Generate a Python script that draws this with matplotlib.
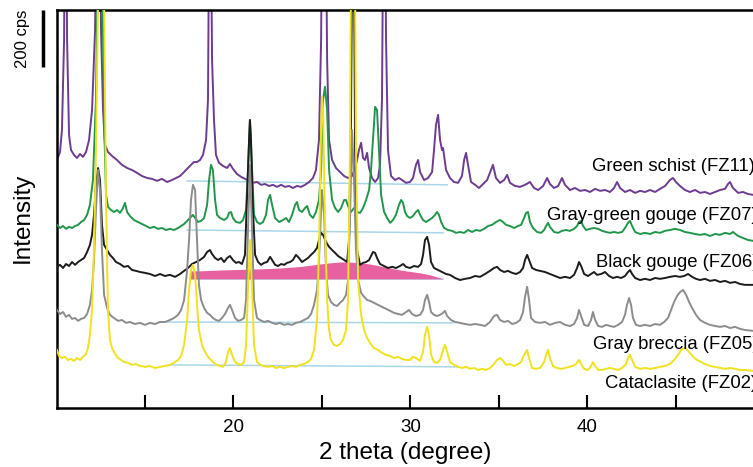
import matplotlib.pyplot as plt
import matplotlib.transforms as mtransforms

plt.rcParams['font.family'] = ['Liberation Sans', 'DejaVu Sans']

# ---- XRD patterns: 2 theta (degree) and intensity (cps) ----
schist_x = [10.04, 10.21, 10.32, 10.44, 10.52, 10.61, 10.72, 10.83, 11.00, 11.17,
            11.34, 11.51, 11.68, 11.85, 12.02, 12.19, 12.36, 12.53, 12.64, 12.75,
            12.92, 13.15, 13.43, 13.71, 14.00, 14.28, 14.56, 14.84, 15.13, 15.41,
            15.69, 15.97, 16.26, 16.54, 16.76, 16.99, 17.22, 17.44, 17.61, 17.78,
            17.95, 18.12, 18.29, 18.46, 18.57, 18.68, 18.80, 18.91, 19.02, 19.19,
            19.42, 19.65, 19.81, 19.98, 20.21, 20.44, 20.66, 20.89, 21.11, 21.34,
            21.57, 21.79, 22.02, 22.24, 22.47, 22.70, 22.92, 23.15, 23.37, 23.60,
            23.83, 24.05, 24.28, 24.50, 24.67, 24.84, 24.96, 25.07, 25.18, 25.30,
            25.41, 25.58, 25.80, 26.03, 26.26, 26.48, 26.71, 26.88, 26.99, 27.10,
            27.22, 27.33, 27.44, 27.56, 27.67, 27.84, 28.01, 28.18, 28.29, 28.40,
            28.52, 28.63, 28.74, 28.91, 29.14, 29.36, 29.53, 29.76, 29.98, 30.15,
            30.32, 30.44, 30.55, 30.78, 31.00, 31.23, 31.34, 31.45, 31.57, 31.68,
            31.79, 31.85, 32.02, 32.24, 32.47, 32.70, 32.92, 33.04, 33.15, 33.26,
            33.43, 33.66, 33.88, 34.11, 34.34, 34.56, 34.67, 34.84, 35.07, 35.30,
            35.47, 35.63, 35.92, 36.20, 36.48, 36.76, 36.99, 37.22, 37.50, 37.73,
            37.89, 38.12, 38.35, 38.57, 38.74, 39.02, 39.31, 39.59, 39.87, 40.15,
            40.44, 40.72, 41.00, 41.28, 41.51, 41.68, 41.85, 42.13, 42.41, 42.70,
            42.98, 43.26, 43.54, 43.83, 44.11, 44.39, 44.67, 44.84, 45.01, 45.24,
            45.52, 45.80, 46.09, 46.37, 46.65, 46.93, 47.22, 47.50, 47.78, 47.95,
            48.06, 48.23, 48.52, 48.80, 49.08, 49.36]
schist_y = [238, 266, 343, 658, 1498, 658, 326, 273, 256, 245,
            259, 249, 266, 308, 413, 693, 1498, 693, 413, 291,
            266, 252, 238, 221, 210, 203, 193, 182, 175, 172,
            165, 172, 161, 168, 175, 182, 196, 210, 221, 231,
            231, 238, 256, 308, 448, 1498, 588, 378, 256, 228,
            217, 210, 224, 207, 189, 179, 172, 165, 158, 161,
            151, 154, 147, 151, 144, 151, 144, 147, 140, 147,
            144, 151, 161, 175, 203, 308, 658, 1498, 1498, 588,
            308, 238, 210, 196, 182, 175, 182, 210, 238, 273,
            298, 245, 238, 263, 210, 175, 161, 175, 221, 448,
            1498, 658, 273, 182, 168, 175, 168, 158, 161, 175,
            221, 238, 196, 168, 175, 196, 273, 361, 396, 308,
            273, 280, 203, 175, 161, 158, 182, 238, 263, 221,
            161, 151, 140, 154, 168, 203, 221, 175, 158, 168,
            186, 158, 147, 144, 151, 161, 140, 133, 147, 175,
            154, 140, 147, 175, 151, 133, 140, 130, 133, 126,
            137, 130, 133, 126, 140, 161, 140, 126, 133, 123,
            130, 126, 133, 126, 137, 147, 168, 175, 161, 147,
            133, 126, 133, 123, 126, 119, 126, 133, 137, 154,
            161, 140, 123, 126, 119, 116]

gouge_gg_x = [10.04, 10.21, 10.38, 10.55, 10.72, 10.89, 11.06, 11.23, 11.40, 11.57,
              11.74, 11.90, 12.07, 12.24, 12.36, 12.47, 12.58, 12.70, 12.81, 12.92,
              13.09, 13.26, 13.43, 13.60, 13.77, 13.88, 14.00, 14.16, 14.39, 14.62,
              14.84, 15.07, 15.29, 15.52, 15.75, 15.97, 16.20, 16.42, 16.65, 16.88,
              17.05, 17.22, 17.44, 17.61, 17.72, 17.84, 18.01, 18.18, 18.35, 18.52,
              18.63, 18.74, 18.85, 18.97, 19.08, 19.25, 19.48, 19.65, 19.76, 19.87,
              19.98, 20.15, 20.38, 20.55, 20.72, 20.83, 20.94, 21.06, 21.17, 21.34,
              21.51, 21.68, 21.85, 21.96, 22.08, 22.19, 22.36, 22.59, 22.81, 22.98,
              23.15, 23.32, 23.49, 23.60, 23.71, 23.88, 24.05, 24.17, 24.33, 24.50,
              24.67, 24.84, 24.96, 25.07, 25.18, 25.30, 25.41, 25.58, 25.75, 25.92,
              26.09, 26.26, 26.37, 26.48, 26.65, 26.82, 26.99, 27.16, 27.33, 27.50,
              27.67, 27.78, 27.89, 28.01, 28.12, 28.23, 28.35, 28.52, 28.69, 28.86,
              29.02, 29.19, 29.36, 29.48, 29.59, 29.70, 29.82, 29.98, 30.15, 30.32,
              30.44, 30.55, 30.72, 30.89, 31.06, 31.23, 31.40, 31.51, 31.62, 31.74,
              31.91, 32.13, 32.36, 32.58, 32.81, 33.04, 33.26, 33.49, 33.71, 33.94,
              34.17, 34.39, 34.62, 34.84, 35.07, 35.24, 35.41, 35.63, 35.86, 36.09,
              36.26, 36.43, 36.54, 36.65, 36.76, 36.93, 37.16, 37.39, 37.56, 37.67,
              37.78, 37.89, 38.12, 38.35, 38.57, 38.80, 39.02, 39.25, 39.42, 39.53,
              39.65, 39.76, 39.93, 40.15, 40.38, 40.61, 40.83, 41.06, 41.28, 41.51,
              41.74, 41.96, 42.13, 42.30, 42.41, 42.53, 42.70, 42.98, 43.26, 43.54,
              43.83, 44.11, 44.39, 44.67, 44.96, 45.24, 45.52, 45.80, 46.09, 46.37,
              46.65, 46.93, 47.22, 47.50, 47.78, 48.06, 48.23, 48.52, 48.80, 49.08,
              49.36]
gouge_gg_y = [186, 175, 182, 172, 179, 175, 182, 186, 196, 203,
              221, 256, 343, 623, 1148, 1673, 1148, 553, 291, 249,
              238, 231, 238, 228, 245, 263, 231, 217, 203, 196,
              189, 182, 175, 179, 172, 175, 168, 172, 168, 175,
              182, 189, 203, 214, 221, 210, 196, 200, 210, 256,
              343, 396, 378, 273, 221, 210, 203, 210, 228, 231,
              210, 196, 193, 203, 238, 378, 553, 378, 221, 196,
              189, 196, 221, 273, 291, 256, 210, 196, 203, 210,
              196, 221, 256, 266, 238, 231, 245, 252, 221, 210,
              231, 273, 378, 623, 669, 588, 378, 273, 245, 231,
              245, 273, 273, 252, 231, 245, 231, 228, 245, 273,
              308, 378, 483, 599, 588, 448, 291, 231, 210, 193,
              203, 221, 256, 273, 263, 231, 217, 210, 217, 231,
              238, 221, 203, 196, 203, 210, 221, 231, 221, 196,
              175, 168, 165, 158, 161, 158, 168, 161, 168, 165,
              172, 182, 186, 196, 203, 196, 186, 182, 175, 182,
              186, 210, 228, 231, 196, 175, 161, 158, 168, 182,
              193, 179, 161, 158, 165, 168, 165, 172, 182, 196,
              200, 182, 168, 172, 175, 172, 165, 161, 158, 161,
              158, 161, 175, 193, 200, 182, 161, 154, 158, 154,
              161, 158, 165, 168, 172, 168, 161, 158, 154, 151,
              154, 147, 154, 151, 158, 154, 161, 147, 140, 133,
              130]

gouge_b_x = [10.04, 10.21, 10.38, 10.55, 10.72, 10.89, 11.06, 11.23, 11.40, 11.57,
             11.74, 11.90, 12.02, 12.13, 12.24, 12.36, 12.47, 12.58, 12.70, 12.87,
             13.03, 13.20, 13.37, 13.60, 13.83, 14.05, 14.28, 14.50, 14.73, 15.01,
             15.29, 15.58, 15.86, 16.14, 16.42, 16.71, 16.99, 17.22, 17.44, 17.67,
             17.89, 18.12, 18.35, 18.52, 18.68, 18.80, 18.97, 19.14, 19.31, 19.48,
             19.65, 19.81, 19.98, 20.15, 20.32, 20.49, 20.66, 20.77, 20.89, 20.94,
             21.00, 21.11, 21.23, 21.40, 21.57, 21.74, 21.91, 22.08, 22.19, 22.36,
             22.53, 22.70, 22.87, 23.04, 23.21, 23.37, 23.54, 23.71, 23.88, 24.05,
             24.22, 24.39, 24.56, 24.73, 24.84, 24.96, 25.07, 25.24, 25.41, 25.58,
             25.75, 25.92, 26.09, 26.26, 26.43, 26.54, 26.65, 26.77, 26.88, 26.99,
             27.16, 27.33, 27.50, 27.67, 27.78, 27.89, 28.01, 28.12, 28.29, 28.52,
             28.74, 28.97, 29.19, 29.42, 29.59, 29.76, 29.98, 30.21, 30.44, 30.61,
             30.72, 30.83, 30.95, 31.06, 31.17, 31.34, 31.57, 31.79, 32.02, 32.24,
             32.53, 32.81, 33.09, 33.37, 33.66, 33.94, 34.22, 34.50, 34.73, 34.90,
             35.07, 35.30, 35.52, 35.75, 35.98, 36.20, 36.37, 36.48, 36.60, 36.71,
             36.88, 37.11, 37.33, 37.61, 37.89, 38.18, 38.46, 38.74, 39.02, 39.25,
             39.42, 39.53, 39.65, 39.82, 40.04, 40.21, 40.38, 40.55, 40.78, 41.00,
             41.23, 41.45, 41.68, 41.91, 42.13, 42.30, 42.41, 42.53, 42.70, 42.98,
             43.26, 43.54, 43.83, 44.11, 44.39, 44.67, 44.96, 45.24, 45.47, 45.69,
             45.92, 46.14, 46.37, 46.65, 46.93, 47.22, 47.50, 47.78, 48.06, 48.35,
             48.63, 48.91, 49.36]
gouge_b_y = [179, 186, 175, 189, 182, 196, 186, 196, 203, 210,
             231, 256, 291, 361, 466, 525, 483, 326, 256, 238,
             221, 210, 196, 189, 179, 182, 168, 165, 161, 158,
             154, 147, 154, 147, 151, 144, 154, 165, 175, 189,
             196, 203, 214, 231, 238, 224, 210, 203, 210, 196,
             210, 217, 203, 193, 196, 189, 221, 413, 623, 693,
             623, 378, 221, 196, 186, 193, 196, 214, 203, 186,
             182, 189, 186, 193, 196, 203, 221, 210, 196, 203,
             210, 221, 231, 245, 273, 298, 291, 266, 249, 238,
             228, 217, 210, 203, 196, 273, 693, 1813, 588, 238,
             186, 193, 196, 203, 217, 231, 228, 210, 189, 182,
             175, 179, 175, 182, 189, 179, 175, 182, 179, 189,
             221, 273, 284, 256, 196, 175, 168, 161, 154, 151,
             140, 133, 137, 140, 147, 144, 154, 165, 175, 179,
             168, 161, 165, 158, 154, 161, 175, 203, 221, 203,
             175, 168, 165, 161, 154, 147, 140, 144, 140, 151,
             175, 196, 182, 154, 147, 154, 161, 151, 154, 161,
             147, 140, 144, 140, 147, 161, 168, 154, 140, 133,
             137, 133, 140, 137, 140, 144, 147, 144, 147, 154,
             144, 137, 133, 137, 130, 133, 126, 130, 123, 126,
             119, 116, 116]

breccia_x = [10.04, 10.21, 10.38, 10.55, 10.72, 10.89, 11.06, 11.23, 11.40, 11.57,
             11.74, 11.90, 12.02, 12.13, 12.24, 12.36, 12.47, 12.58, 12.70, 12.87,
             13.03, 13.26, 13.49, 13.71, 13.94, 14.16, 14.45, 14.73, 15.01, 15.29,
             15.58, 15.86, 16.14, 16.42, 16.65, 16.88, 17.05, 17.22, 17.39, 17.50,
             17.61, 17.72, 17.84, 17.95, 18.06, 18.18, 18.35, 18.52, 18.68, 18.85,
             19.02, 19.19, 19.36, 19.53, 19.70, 19.81, 19.93, 20.10, 20.27, 20.44,
             20.61, 20.72, 20.83, 20.94, 21.06, 21.17, 21.34, 21.51, 21.74, 21.96,
             22.19, 22.42, 22.64, 22.87, 23.09, 23.32, 23.54, 23.77, 23.99, 24.22,
             24.39, 24.56, 24.73, 24.84, 24.96, 25.01, 25.13, 25.24, 25.35, 25.52,
             25.69, 25.86, 26.03, 26.20, 26.37, 26.48, 26.59, 26.71, 26.82, 26.93,
             27.05, 27.22, 27.39, 27.56, 27.72, 27.95, 28.18, 28.40, 28.63, 28.86,
             29.08, 29.31, 29.53, 29.76, 29.93, 30.10, 30.32, 30.55, 30.72, 30.83,
             30.95, 31.06, 31.17, 31.34, 31.51, 31.68, 31.85, 31.96, 32.08, 32.30,
             32.53, 32.81, 33.09, 33.37, 33.66, 33.94, 34.22, 34.50, 34.73, 34.90,
             35.07, 35.30, 35.52, 35.75, 35.98, 36.20, 36.37, 36.48, 36.60, 36.71,
             36.82, 37.05, 37.33, 37.61, 37.89, 38.18, 38.46, 38.74, 39.02, 39.25,
             39.42, 39.53, 39.65, 39.82, 40.04, 40.21, 40.32, 40.44, 40.61, 40.83,
             41.06, 41.28, 41.51, 41.74, 41.96, 42.13, 42.24, 42.36, 42.47, 42.58,
             42.75, 42.98, 43.26, 43.54, 43.83, 44.11, 44.34, 44.56, 44.73, 44.90,
             45.07, 45.24, 45.41, 45.58, 45.75, 45.92, 46.14, 46.37, 46.65, 46.93,
             47.22, 47.50, 47.78, 48.06, 48.35, 48.63, 48.91, 49.36]
breccia_y = [203, 189, 196, 179, 186, 172, 175, 165, 172, 175,
             189, 221, 273, 378, 553, 693, 623, 413, 256, 210,
             186, 175, 165, 168, 158, 161, 154, 158, 151, 158,
             154, 161, 161, 168, 175, 186, 203, 238, 343, 448,
             588, 641, 623, 448, 291, 238, 210, 193, 186, 175,
             168, 165, 175, 189, 210, 221, 203, 175, 165, 168,
             175, 238, 483, 711, 483, 238, 175, 168, 161, 165,
             158, 154, 158, 151, 154, 151, 158, 161, 168, 175,
             189, 221, 273, 378, 553, 623, 536, 343, 256, 231,
             221, 217, 228, 238, 256, 308, 518, 833, 658, 413,
             308, 263, 249, 238, 235, 228, 221, 214, 207, 200,
             193, 189, 186, 196, 203, 189, 182, 186, 203, 238,
             256, 231, 196, 186, 182, 186, 193, 200, 182, 168,
             161, 158, 154, 151, 154, 151, 147, 161, 182, 186,
             168, 161, 165, 154, 158, 168, 196, 249, 284, 238,
             175, 161, 158, 161, 151, 158, 161, 151, 147, 154,
             175, 203, 182, 151, 147, 168, 196, 168, 147, 144,
             151, 147, 144, 151, 161, 186, 221, 245, 221, 175,
             151, 147, 151, 147, 154, 151, 161, 175, 203, 231,
             252, 266, 273, 256, 231, 210, 186, 168, 158, 151,
             147, 144, 147, 140, 144, 137, 133, 130]

catacl_x = [10.04, 10.15, 10.32, 10.49, 10.66, 10.83, 11.00, 11.17, 11.34, 11.51,
            11.68, 11.79, 11.90, 12.02, 12.13, 12.24, 12.36, 12.47, 12.58, 12.70,
            12.81, 12.92, 13.03, 13.15, 13.32, 13.49, 13.66, 13.83, 14.05, 14.28,
            14.50, 14.73, 15.01, 15.29, 15.58, 15.86, 16.14, 16.42, 16.65, 16.88,
            17.05, 17.22, 17.39, 17.50, 17.61, 17.72, 17.84, 17.95, 18.06, 18.23,
            18.40, 18.57, 18.74, 18.91, 19.08, 19.25, 19.42, 19.59, 19.70, 19.81,
            19.93, 20.10, 20.27, 20.44, 20.61, 20.72, 20.83, 20.94, 21.06, 21.17,
            21.34, 21.51, 21.74, 21.96, 22.19, 22.42, 22.64, 22.87, 23.09, 23.32,
            23.54, 23.77, 23.99, 24.22, 24.39, 24.56, 24.73, 24.84, 24.96, 25.01,
            25.07, 25.18, 25.30, 25.41, 25.52, 25.69, 25.86, 26.03, 26.20, 26.37,
            26.48, 26.59, 26.71, 26.82, 26.93, 27.05, 27.22, 27.39, 27.56, 27.72,
            27.95, 28.18, 28.40, 28.63, 28.86, 29.08, 29.31, 29.53, 29.76, 29.98,
            30.15, 30.32, 30.55, 30.72, 30.83, 30.95, 31.06, 31.17, 31.34, 31.51,
            31.68, 31.85, 31.96, 32.08, 32.24, 32.47, 32.70, 32.92, 33.15, 33.37,
            33.60, 33.83, 34.05, 34.28, 34.50, 34.73, 34.90, 35.07, 35.24, 35.41,
            35.63, 35.86, 36.09, 36.26, 36.43, 36.60, 36.71, 36.88, 37.11, 37.33,
            37.56, 37.67, 37.78, 37.89, 38.06, 38.29, 38.52, 38.74, 38.97, 39.19,
            39.36, 39.53, 39.65, 39.82, 40.04, 40.21, 40.32, 40.44, 40.61, 40.83,
            41.06, 41.28, 41.51, 41.74, 41.96, 42.19, 42.30, 42.41, 42.53, 42.70,
            42.98, 43.26, 43.54, 43.83, 44.11, 44.39, 44.67, 44.90, 45.13, 45.30,
            45.47, 45.58, 45.75, 45.98, 46.20, 46.43, 46.65, 46.93, 47.22, 47.50,
            47.78, 48.06, 48.35, 48.63, 48.91, 49.36]
catacl_y = [203, 182, 175, 179, 168, 172, 165, 175, 168, 179,
            189, 210, 256, 343, 553, 903, 1428, 2128, 2128, 1428,
            728, 343, 238, 210, 189, 175, 168, 161, 158, 151,
            154, 147, 144, 147, 140, 144, 147, 151, 158, 168,
            182, 221, 308, 413, 483, 501, 466, 361, 273, 221,
            196, 179, 168, 158, 151, 147, 144, 161, 196, 210,
            186, 161, 154, 151, 161, 221, 413, 588, 413, 221,
            161, 151, 147, 144, 147, 140, 144, 140, 144, 147,
            144, 151, 154, 161, 172, 203, 308, 553, 973, 1089,
            1043, 658, 378, 273, 238, 221, 217, 224, 238, 273,
            378, 903, 2128, 2128, 903, 448, 326, 273, 245, 228,
            210, 203, 193, 186, 182, 175, 179, 172, 168, 168,
            179, 175, 165, 196, 256, 284, 256, 186, 161, 158,
            168, 203, 221, 196, 161, 151, 144, 140, 144, 137,
            140, 133, 137, 133, 140, 154, 168, 175, 165, 151,
            154, 147, 154, 161, 186, 203, 175, 140, 137, 140,
            161, 186, 203, 175, 147, 140, 137, 140, 144, 147,
            154, 168, 154, 137, 133, 147, 161, 147, 133, 133,
            137, 140, 137, 133, 140, 154, 175, 186, 168, 144,
            137, 140, 137, 140, 144, 147, 154, 168, 186, 203,
            210, 207, 196, 179, 168, 161, 154, 147, 144, 140,
            137, 140, 137, 133, 133, 130]

# background lines (start/end 2 theta, cps) per sample
schist_bg_x, schist_bg_y = [17.39, 32.08], [165, 151]
gouge_gg_bg_x, gouge_gg_bg_y = [17.39, 31.85], [168, 158]
gouge_b_bg_x, gouge_b_bg_y = [17.55, 31.85], [137, 137]
breccia_bg_x, breccia_bg_y = [16.26, 32.41], [161, 158]
catacl_bg_x, catacl_bg_y = [16.42, 32.64], [151, 144]

# amorphous hump in the black gouge
hump_x = [17.55, 18.12, 19.25, 20.38, 21.51, 22.64, 23.77, 24.90, 25.46, 26.03,
          26.59, 27.16, 27.72, 28.29, 28.86, 29.42, 29.98, 30.55, 31.12, 31.85]
hump_top = [165, 165, 168, 170, 172, 175, 180, 189, 193, 196,
            196, 193, 189, 182, 175, 168, 163, 158, 151, 137]
hump_base = 137

names = ['Green schist (FZ11)', 'Gray-green gouge (FZ07)', 'Black gouge (FZ06)',
         'Gray breccia (FZ05)', 'Cataclasite (FZ02)']
offsets = [630, 455, 315, 140, 0]
label_x = [40.27, 37.73, 40.49, 40.32, 41.00]
label_y = [830, 658, 494, 207, 70]

xticks = [15, 20, 25, 30, 35, 40, 45]
xtick_labels = ['', '20', '', '30', '', '40', '']

colors = ['#6e3b92', '#21964a', '#1c1c1c', '#8c8c8c', '#f0e21e']
bg_color = '#aad6ea'

fig = plt.figure(figsize=(7.53, 4.67), dpi=100)
ax = fig.add_axes([57 / 753, 59 / 467, 1 - 57 / 753, 398 / 467])

traces = [(schist_x, schist_y), (gouge_gg_x, gouge_gg_y), (gouge_b_x, gouge_b_y),
          (breccia_x, breccia_y), (catacl_x, catacl_y)]
bgs = [(schist_bg_x, schist_bg_y), (gouge_gg_bg_x, gouge_gg_bg_y),
       (gouge_b_bg_x, gouge_b_bg_y), (breccia_bg_x, breccia_bg_y),
       (catacl_bg_x, catacl_bg_y)]

# background lines + hump first
for (bx, by), off in zip(bgs, offsets):
    ax.plot(bx, [v + off for v in by], color=bg_color, lw=1.1, zorder=1)
ax.fill_between(hump_x, [hump_base + offsets[2]] * len(hump_x),
                [v + offsets[2] for v in hump_top],
                color='#e7609f', lw=0, zorder=1.5)

for i, ((tx, ty), off, c) in enumerate(zip(traces, offsets, colors)):
    ax.plot(tx, [v + off for v in ty], color=c, lw=1.4, zorder=2 + i)

for name, lx, ly in zip(names, label_x, label_y):
    ax.text(lx, ly, name, fontsize=13.3, ha='left', va='baseline', clip_on=False,
            zorder=10)

ax.set_xlim(10.04, 49.36)
ax.set_ylim(0, 1393)
ax.set_xticks(xticks)
ax.set_xticklabels(xtick_labels, fontsize=13.5)
ax.set_yticks([])
ax.tick_params(axis='x', direction='in', length=9.5, width=1.5, pad=8)
ax.spines['right'].set_visible(False)
for s in ['left', 'top', 'bottom']:
    ax.spines[s].set_linewidth(1.8)

# 200 cps scale bar
trans = mtransforms.blended_transform_factory(ax.transAxes, ax.transData)
ax.plot([-0.02, -0.02], [1193, 1393], transform=trans, clip_on=False,
        color='black', lw=2.5, solid_capstyle='butt')
ax.text(-0.05, 1293, '200 cps', transform=trans, rotation=90, ha='center',
        va='center', fontsize=12)

fig.text(23 / 753, 1 - 218 / 467, 'Intensity', rotation=90, ha='center',
         va='center', fontsize=17.5)
fig.text(405 / 753, 1 - 453 / 467, '2 theta (degree)', ha='center', va='center',
         fontsize=17.5)

fig.savefig('out.png', dpi=100)
